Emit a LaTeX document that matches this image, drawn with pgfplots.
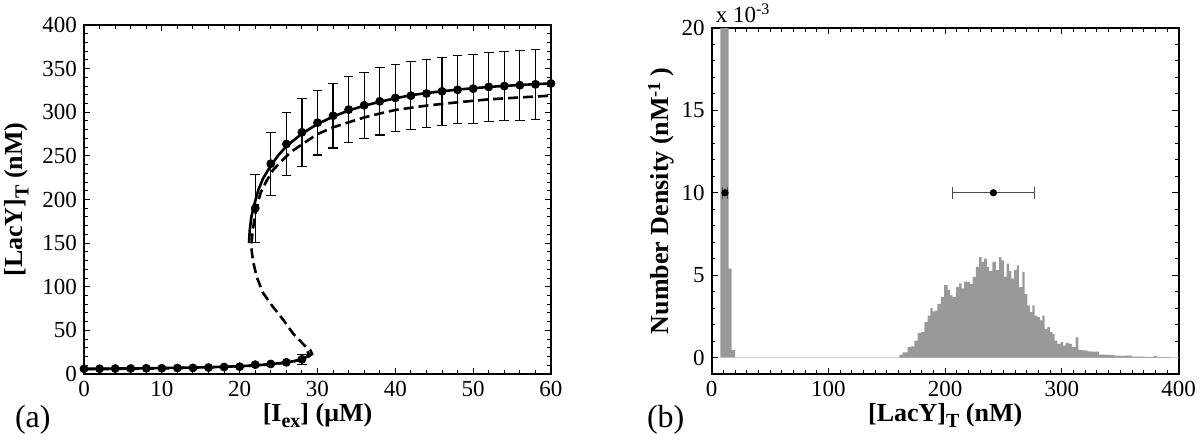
\documentclass[border=0pt]{standalone}
\usepackage{fontspec}
\setmainfont{Liberation Serif}
\usepackage{pgfplots}
\pgfplotsset{compat=1.18}

\pgfplotstableread{
x y
7.4 25
14.5 5.4
17.1 0.45
20.0 0
}\spike

\pgfplotstableread{
x y
160.7 0.18
163.5 0.32
167.8 0.63
170.7 0.67
173.5 1.03
176.4 1.48
179.2 1.54
182.1 2.15
184.9 2.55
187.2 3.0
189.2 2.8
191.2 2.85
193.4 3.26
196.3 3.66
199.1 4.4
202.0 4.1
204.3 3.77
206.3 3.66
209.1 4.27
212.0 4.5
214.0 4.2
216.2 4.6
219.1 4.57
221.2 4.45
223.4 4.9
226.2 5.5
229.1 6.1
231.1 5.8
233.3 6.0
235.6 5.5
237.6 5.25
240.5 5.8
243.3 5.3
246.2 6.1
248.1 5.9
250.4 4.9
252.7 5.7
254.7 5.25
256.7 4.8
259.0 5.3
261.3 5.6
263.2 4.27
266.1 5.2
268.1 3.87
270.4 3.16
272.6 2.75
274.6 3.16
276.6 2.55
278.9 2.45
281.2 2.25
283.2 2.55
285.2 1.74
287.5 1.84
289.7 1.54
291.7 1.44
293.7 1.03
296.0 0.83
298.9 0.93
301.1 0.73
303.1 0.89
306.0 0.83
308.8 0.63
311.7 1.23
314.0 0.47
317.4 0.43
321.7 0.38
326.0 0.36
331.6 0.18
338.0 0.16
344.4 0.12
349.0 0.10
354.4 0.12
360.1 0.06
364.4 0.05
371.0 0.04
378.6 0.10
381.5 0.03
392.9 0
}\hump

\begin{document}
\begin{tikzpicture}
\useasboundingbox (-42pt,-33pt) rectangle (558pt,187pt);
\pgfplotsset{
  myax/.style={
    scale only axis,
    axis line style={line width=0.8pt},
    every tick/.style={black, line width=0.5pt},
    major tick length=3.2pt,
    minor tick length=1.8pt,
    tick align=inside,
    tick label style={font=\fontsize{11.5}{13}\selectfont},
    label style={font=\fontsize{13}{15}\selectfont\bfseries},
    /pgf/number format/assume math mode=true,
  }
}
% ---------------- panel (a) ----------------
\begin{axis}[myax, at={(0,0)}, anchor=south west,
  width=233.5pt, height=174.5pt,
  xmin=0, xmax=60, ymin=0, ymax=400,
  xtick={0,10,...,60}, ytick={0,50,...,400},
  minor x tick num=4, minor y tick num=4,
  xlabel={[I\raisebox{-0.55ex}{\fontsize{10}{10}\selectfont ex}] (μM)},
  ylabel={[LacY]\raisebox{-0.55ex}{\fontsize{10}{10}\selectfont T} (nM)},
  xlabel style={at={(axis description cs:0.5,-0.135)}, anchor=base},
  ylabel style={at={(axis description cs:-0.145,0.5)}, anchor=center},
]
% dashed model curve (full S)
\addplot[black, line width=1.3pt, dash pattern=on 5pt off 2.5pt] coordinates {
(0,5.5) (4,5.8) (8,6.2) (12,6.8) (16,7.5) (20,8.6) (22,9.6) (24,11) (26,13) (27,14.6) (28,16.8) (28.8,19.5) (29.3,23)
(29.1,27) (28.3,33) (26.9,46) (25.6,62) (24.1,79) (23,93) (22.2,111) (21.7,130) (21.5,145)
(21.6,158) (21.8,172) (22.1,188) (22.7,208) (23.5,222) (24.3,234) (26.5,254) (28.4,265.5) (30,275)
(32,282.7) (34,288.5) (36,294) (38,298.5) (40,302.6) (44,307.6) (48,311.4) (52,314.8) (56,317) (60,319)};
% solid model curve, lower branch
\addplot[black, line width=1.3pt] coordinates {
(0,6) (4,6.2) (8,6.6) (12,7.1) (16,7.8) (20,8.9) (22,9.9) (24,11.3) (26,13.3) (27,14.8) (28,17) (28.6,19.5) (28.9,22.5) (28.7,26)};
% solid model curve, upper branch
\addplot[black, line width=1.3pt] coordinates {
(21.2,150) (21.3,165) (21.5,180) (21.9,195) (22.4,211) (23,224) (24,239) (25,251) (26,261) (28,275.5) (30,286.5)
(32,295) (34,302) (36,307.5) (38,312) (40,316) (42,319.5) (44,322) (46,324) (48,326) (50,327.5)
(52,329) (54,330.2) (56,331.2) (58,332.2) (60,333)};
% simulation means with error bars
\addplot[only marks, mark=*, mark size=2pt, black,
  error bars/.cd, y dir=both, y explicit,
  error bar style={line width=0.6pt},
  error mark options={rotate=90, line width=0.6pt, mark size=2.4pt}]
coordinates {
(0,6) +- (0,0) (2,6) +- (0,0) (4,6.2) +- (0,0) (6,6.3) +- (0,0) (8,6.5) +- (0,0) (10,6.6) +- (0,0)
(12,6.8) +- (0,0) (14,7) +- (0,0) (16,7.4) +- (0,0) (18,8) +- (0,0) (20,8.4) +- (0,0)
(22,10.7) +- (0,0) (24,11.5) +- (0,0) (26,13.4) +- (0,0) (28,16.8) +- (0,6)
(22,190) +- (0,39) (24,241) +- (0,36) (26,263.6) +- (0,36) (28,277) +- (0,39) (30,288) +- (0,37)
(32,296) +- (0,37) (34,303) +- (0,38) (36,308) +- (0,38) (38,312.5) +- (0,38.5) (40,316.5) +- (0,38.5)
(42,319) +- (0,39) (44,321.5) +- (0,39) (46,324) +- (0,39) (48,325.7) +- (0,39) (50,327) +- (0,39.5)
(52,329) +- (0,39.5) (54,330) +- (0,39.5) (56,331) +- (0,40) (58,332) +- (0,40) (60,333) +- (0,0)};
\end{axis}
\node[anchor=base west, font=\fontsize{16}{18}\selectfont] at (-38pt,-26.5pt) {(a)};

% ---------------- panel (b) ----------------
\begin{axis}[myax, at={(313.85pt,0)}, anchor=south west,
  width=233.5pt, height=173pt,
  xmin=0, xmax=400, ymin=-1, ymax=20,
  clip mode=individual,
  xtick={0,100,...,400}, ytick={0,5,...,20},
  minor x tick num=9, minor y tick num=4,
  xlabel={[LacY]\raisebox{-0.55ex}{\fontsize{10}{10}\selectfont T} (nM)},
  ylabel={Number Density (nM\textsuperscript{-1}\,)},
  xlabel style={at={(axis description cs:0.5,-0.136)}, anchor=base},
  ylabel style={at={(axis description cs:-0.108,0.5)}, anchor=center},
]
\addplot[gray!40, line width=0.4pt] coordinates {(20,0) (400,0)};
\addplot[draw=none, fill=black!40, const plot] table[x=x,y=y] {\spike} \closedcycle;
\addplot[draw=none, fill=black!40, const plot] table[x=x,y=y] {\hump} \closedcycle;
\addplot[only marks, mark=*, mark size=1.6pt, black,
  error bars/.cd, x dir=both, x explicit,
  error bar style={black!70, line width=0.5pt},
  error mark options={rotate=90, black!70, line width=0.5pt, mark size=3pt}]
coordinates {(11.4,10) +- (2.1,0) (241.3,10) +- (35.3,0)};
\node[anchor=base west, font=\fontsize{11.5}{13}\selectfont, inner sep=0pt] at (rel axis cs:0.008,1.015) {x 10\textsuperscript{-3}};
\end{axis}
\node[anchor=base west, font=\fontsize{16}{18}\selectfont] at (278pt,-26.5pt) {(b)};
\end{tikzpicture}
\end{document}
